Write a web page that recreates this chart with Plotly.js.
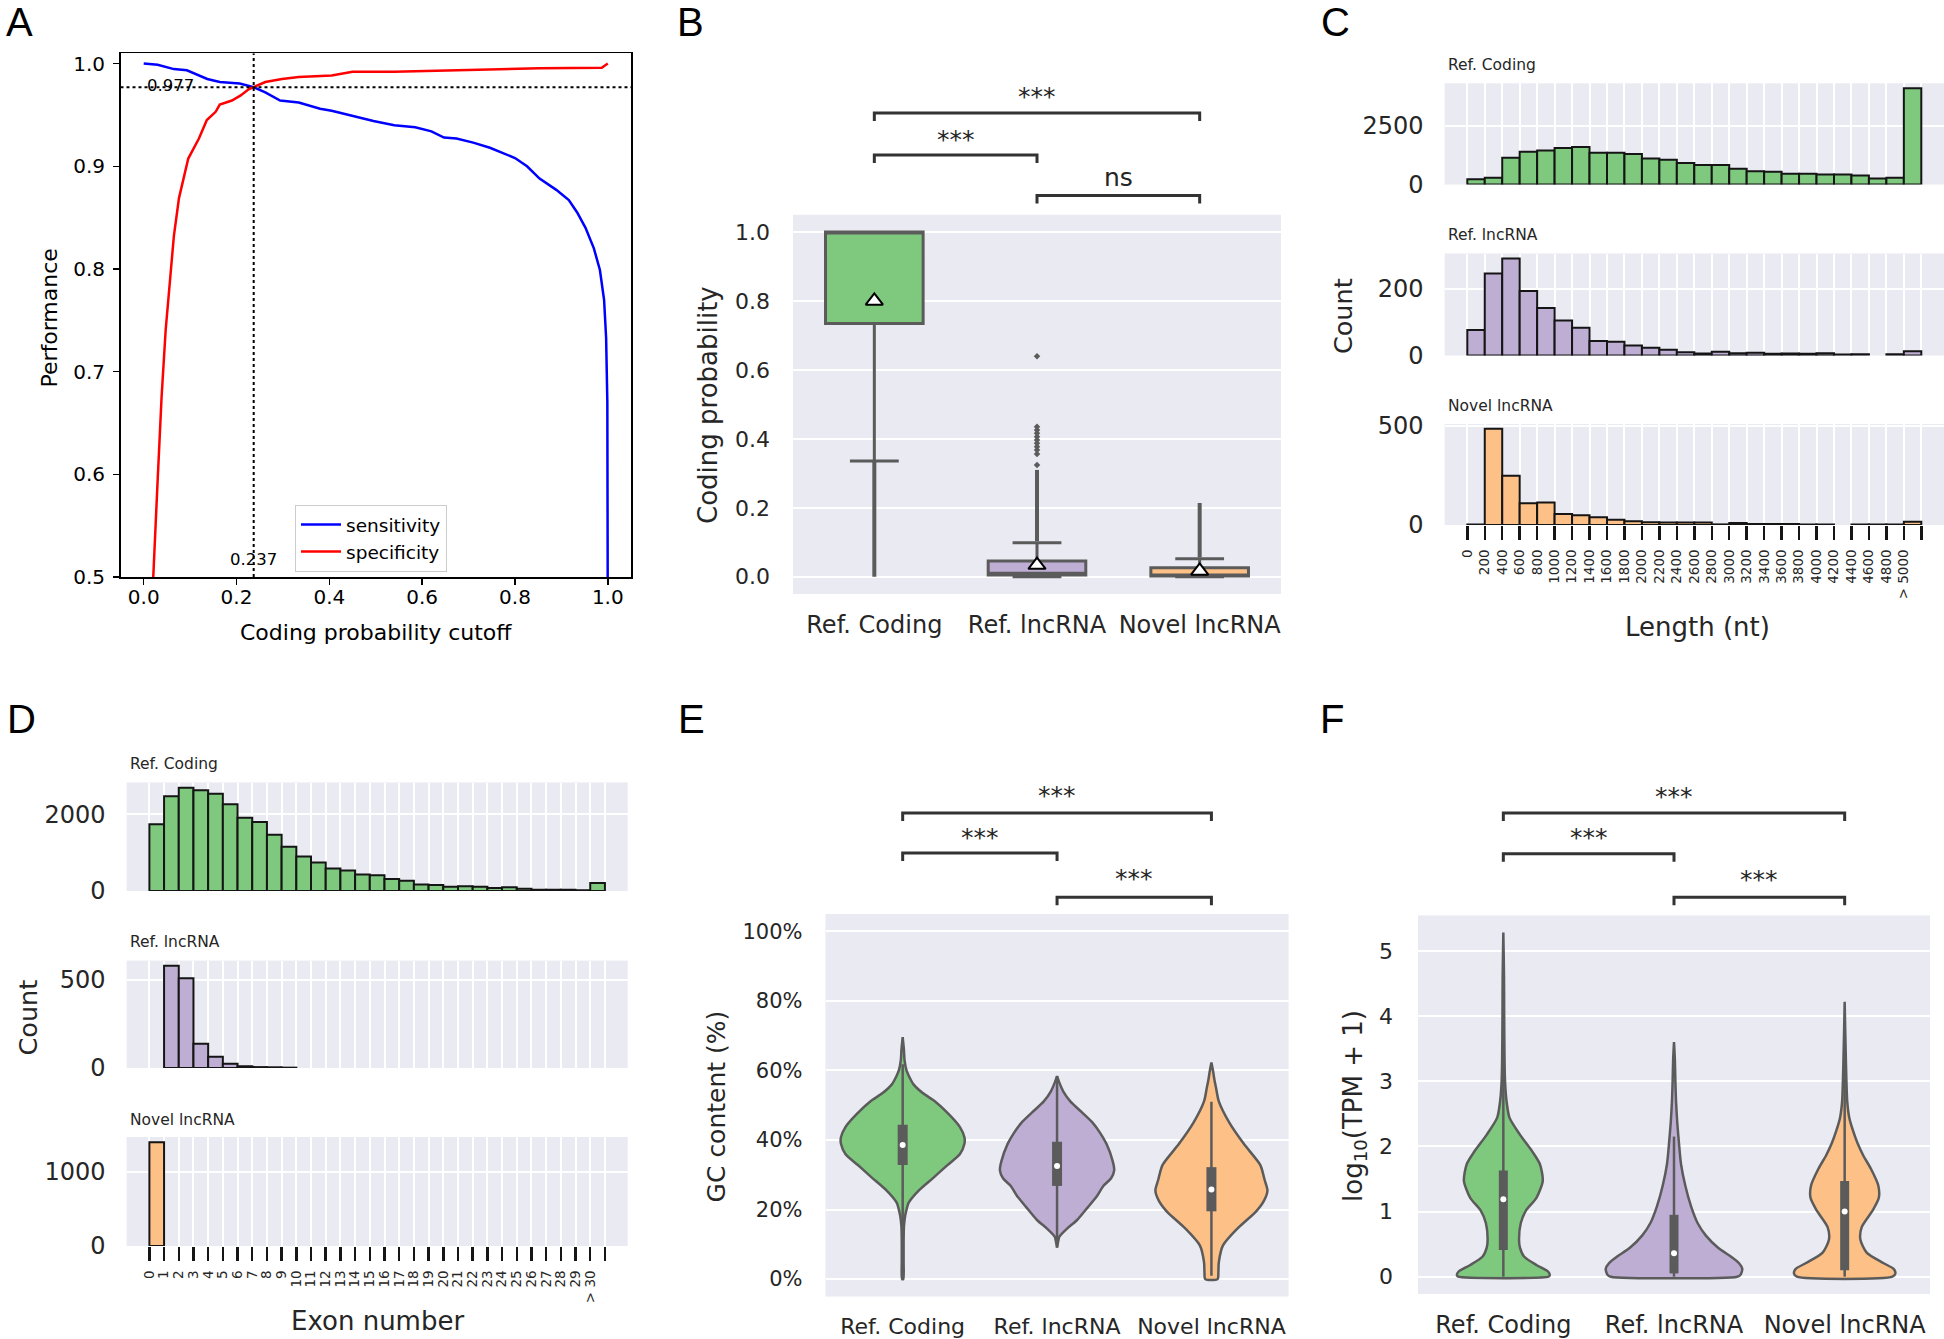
<!DOCTYPE html>
<html><head><meta charset="utf-8">
<script src="https://cdn.plot.ly/plotly-3.0.1.min.js"></script>
<style>html,body{margin:0;padding:0;background:#fff}</style>
</head><body><div id="chart" style="width:1944px;height:1339px"></div>
<script>
// ================= DATA =================
const groups = ['Ref. Coding', 'Ref. lncRNA', 'Novel lncRNA'];
const palette = ['#7fc97f', '#beaed4', '#fdc086'];

// ---- Panel A: performance vs coding probability cutoff ----
const sensX = [0, 0.03, 0.065, 0.093, 0.137, 0.164, 0.207, 0.237, 0.262, 0.294, 0.334, 0.38, 0.405, 0.45, 0.495, 0.54, 0.585, 0.62, 0.647, 0.674, 0.71, 0.746, 0.773, 0.80, 0.826, 0.853, 0.889, 0.916, 0.934, 0.952, 0.97, 0.983, 0.992, 0.9964, 0.999, 1.0];
const sensY = [1.0, 0.9988, 0.9946, 0.9935, 0.985, 0.982, 0.9805, 0.977, 0.972, 0.964, 0.962, 0.956, 0.954, 0.949, 0.944, 0.940, 0.938, 0.934, 0.928, 0.927, 0.923, 0.918, 0.913, 0.908, 0.900, 0.888, 0.877, 0.867, 0.855, 0.840, 0.820, 0.799, 0.770, 0.733, 0.671, 0.45];
const specX = [0.019, 0.0206, 0.0295, 0.0385, 0.0474, 0.058, 0.065, 0.076, 0.088, 0.096, 0.119, 0.136, 0.155, 0.164, 0.19, 0.209, 0.226, 0.237, 0.262, 0.298, 0.334, 0.405, 0.45, 0.54, 0.674, 0.764, 0.853, 0.987, 0.996, 1.0];
const specY = [0.45, 0.5, 0.589, 0.675, 0.741, 0.795, 0.832, 0.869, 0.894, 0.9075, 0.927, 0.945, 0.953, 0.960, 0.964, 0.969, 0.975, 0.977, 0.982, 0.985, 0.987, 0.9885, 0.992, 0.992, 0.9934, 0.9946, 0.9955, 0.9959, 0.9988, 1.0];
const cutoff = 0.237;
const crossPerf = 0.977;

// ---- Panel B: coding probability box plots ----
const cpQ1 = [0.735, 0.005, 0.002];
const cpMedian = [1.0, 0.01, 0.005];
const cpQ3 = [1.0, 0.046, 0.026];
const cpLowWhisker = [0.336, 0.0, 0.0];
const cpHighWhisker = [1.0, 0.099, 0.052];
const cpMean = [0.80, 0.034, 0.017];
const cpOutlierBandLow = [0.0, 0.103, 0.056];
const cpOutlierBandHigh = [0.333, 0.31, 0.214];
const cpOutliersRefLnc = [0.324, 0.356, 0.368, 0.377, 0.387, 0.397, 0.406, 0.416, 0.426, 0.435, 0.640];

// ---- Panel C: transcript length histograms (200 nt bins, last = > 5000) ----
const lenBinStart = [0, 200, 400, 600, 800, 1000, 1200, 1400, 1600, 1800, 2000, 2200, 2400, 2600, 2800, 3000, 3200, 3400, 3600, 3800, 4000, 4200, 4400, 4600, 4800, 5000];
const lenTickVals = [0, 200, 400, 600, 800, 1000, 1200, 1400, 1600, 1800, 2000, 2200, 2400, 2600, 2800, 3000, 3200, 3400, 3600, 3800, 4000, 4200, 4400, 4600, 4800, 5000];
const lenTickText = ['0', '200', '400', '600', '800', '1000', '1200', '1400', '1600', '1800', '2000', '2200', '2400', '2600', '2800', '3000', '3200', '3400', '3600', '3800', '4000', '4200', '4400', '4600', '4800', '> 5000'];
const lenEdgeTick = [5200];
const lenCoding = [227, 284, 1136, 1392, 1449, 1548, 1590, 1349, 1349, 1292, 1108, 1051, 909, 824, 824, 668, 568, 540, 454, 454, 426, 426, 383, 256, 284, 4090];
const lenRefLnc = [76, 245, 290, 193, 142, 105, 83, 43, 41, 30, 23, 17, 10, 6, 11, 7, 8, 5, 6, 5, 7, 3, 4, 0, 4, 13];
const lenNovel = [3, 485, 248, 109, 114, 56, 49, 39, 27, 19, 14, 12, 12, 12, 3, 10, 5, 5, 5, 3, 3, 0, 3, 3, 3, 17];

// ---- Panel D: exon number histograms (last = > 30) ----
const exonBin = [0, 1, 2, 3, 4, 5, 6, 7, 8, 9, 10, 11, 12, 13, 14, 15, 16, 17, 18, 19, 20, 21, 22, 23, 24, 25, 26, 27, 28, 29, 30];
const exonTickVals = [0, 1, 2, 3, 4, 5, 6, 7, 8, 9, 10, 11, 12, 13, 14, 15, 16, 17, 18, 19, 20, 21, 22, 23, 24, 25, 26, 27, 28, 29, 30];
const exonTickText = ['0', '1', '2', '3', '4', '5', '6', '7', '8', '9', '10', '11', '12', '13', '14', '15', '16', '17', '18', '19', '20', '21', '22', '23', '24', '25', '26', '27', '28', '29', '> 30'];
const exonEdgeTick = [31];
const exonCoding = [1744, 2478, 2700, 2633, 2544, 2267, 1911, 1800, 1467, 1156, 900, 744, 589, 533, 433, 411, 311, 267, 167, 156, 111, 122, 111, 78, 100, 56, 33, 33, 33, 22, 211];
const exonRefLnc = [0, 581, 510, 138, 64, 24, 10, 5, 4, 2, 0, 0, 0, 0, 0, 0, 0, 0, 0, 0, 0, 0, 0, 0, 0, 0, 0, 0, 0, 0, 0];
const exonNovel = [1394, 0, 0, 0, 0, 0, 0, 0, 0, 0, 0, 0, 0, 0, 0, 0, 0, 0, 0, 0, 0, 0, 0, 0, 0, 0, 0, 0, 0, 0, 0];

// ---- Panel E: GC content violins (density profile: level -> half width) ----
const gcCodingLevel = [0, 5, 10, 15, 18.2, 20, 21.9, 25.5, 29.2, 32.8, 35.9, 38.9, 40.8, 43.8, 47.4, 51.1, 53.5, 56, 58.4, 60, 63, 66, 69.6];
const gcCodingHalfWidth = [0.004, 0.006, 0.006, 0.008, 0.016, 0.025, 0.038, 0.105, 0.20, 0.29, 0.37, 0.40, 0.40, 0.37, 0.30, 0.21, 0.13, 0.07, 0.04, 0.025, 0.012, 0.008, 0];
const gcRefLncLevel = [9.1, 10.5, 12.2, 14.6, 17, 20.7, 24, 26.8, 29, 31.3, 34, 38.9, 42, 45, 48, 51.1, 54, 56.5, 58.4];
const gcRefLncHalfWidth = [0, 0.006, 0.015, 0.067, 0.13, 0.20, 0.26, 0.30, 0.35, 0.37, 0.36, 0.32, 0.28, 0.23, 0.16, 0.086, 0.04, 0.015, 0];
const gcNovelLevel = [0, 2, 4.9, 9.7, 14.6, 19.5, 22.5, 25.5, 28.5, 32.8, 38.9, 45, 51.1, 55, 57.2, 60, 62.3];
const gcNovelHalfWidth = [0.04, 0.045, 0.048, 0.075, 0.17, 0.29, 0.34, 0.363, 0.345, 0.317, 0.21, 0.116, 0.048, 0.03, 0.02, 0.01, 0];
const gcQ1 = [32.8, 26.8, 19.5];
const gcMedian = [38.6, 32.5, 25.8];
const gcQ3 = [44.4, 39.5, 32.2];
const gcWhiskerLow = [15.4, 9.1, 1.0];
const gcWhiskerHigh = [61.8, 58.4, 51.0];
const gcTickVals = [0, 20, 40, 60, 80, 100];
const gcTickText = ['0%', '20%', '40%', '60%', '80%', '100%'];

// ---- Panel F: expression violins ----
const tpmCodingLevel = [0, 0.02, 0.08, 0.18, 0.31, 0.45, 0.57, 0.82, 1.02, 1.21, 1.47, 1.73, 1.92, 2.18, 2.44, 2.69, 3.0, 3.34, 4.0, 4.6, 5.28];
const tpmCodingHalfWidth = [0.265, 0.272, 0.262, 0.194, 0.121, 0.097, 0.092, 0.102, 0.134, 0.194, 0.231, 0.214, 0.17, 0.097, 0.036, 0.019, 0.01, 0.007, 0.005, 0.004, 0];
const tpmRefLncLevel = [0, 0.03, 0.12, 0.21, 0.31, 0.44, 0.63, 0.82, 1.08, 1.40, 1.73, 2.05, 2.37, 2.69, 3.0, 3.34, 3.6];
const tpmRefLncHalfWidth = [0.37, 0.39, 0.40, 0.38, 0.333, 0.26, 0.187, 0.139, 0.10, 0.066, 0.041, 0.029, 0.019, 0.012, 0.008, 0.005, 0];
const tpmNovelLevel = [0, 0.05, 0.12, 0.21, 0.37, 0.57, 0.76, 1.02, 1.21, 1.40, 1.66, 1.86, 2.05, 2.24, 2.44, 2.69, 3.34, 4.22];
const tpmNovelHalfWidth = [0.28, 0.297, 0.287, 0.226, 0.129, 0.092, 0.10, 0.165, 0.20, 0.197, 0.153, 0.109, 0.075, 0.049, 0.027, 0.015, 0.007, 0];
const tpmQ1 = [0.41, 0.05, 0.10];
const tpmMedian = [1.19, 0.36, 1.0];
const tpmQ3 = [1.63, 0.95, 1.47];
const tpmWhiskerLow = [0, 0, 0];
const tpmWhiskerHigh = [3.46, 2.15, 3.5];

// ---- significance brackets ----
const sigPairs = [[0, 2], [0, 1], [1, 2]];
const sigB = ['***', '***', 'ns'];
const sigE = ['***', '***', '***'];
const sigF = ['***', '***', '***'];

// ================= BUILD =================
const W = 1944, H = 1339;
const px = v => v / W;
const py = v => 1 - v / H;
const domX = (a, b) => [px(a), px(b)];
const domY = (top, bottom) => [py(bottom), py(top)];
const GRAY = '#5b5b5b';
const TXT = '#262626';
const FONT = 'DejaVu Sans';

const traces = [];

// A
traces.push({type: 'scatter', mode: 'lines', x: sensX, y: sensY, name: 'sensitivity',
  line: {color: '#0000ff', width: 2.5}, xaxis: 'x', yaxis: 'y'});
traces.push({type: 'scatter', mode: 'lines', x: specX, y: specY, name: 'specificity',
  line: {color: '#ff0000', width: 2.5}, xaxis: 'x', yaxis: 'y'});

// B
groups.forEach((g, i) => {
  traces.push({type: 'box', name: g, x: [i], q1: [cpQ1[i]], median: [cpMedian[i]], q3: [cpQ3[i]],
    lowerfence: [cpLowWhisker[i]], upperfence: [cpHighWhisker[i]], width: 0.6, whiskerwidth: 0.5,
    fillcolor: palette[i], line: {color: GRAY, width: 3}, boxpoints: false,
    xaxis: 'x2', yaxis: 'y2', showlegend: false, hoverinfo: 'skip'});
  traces.push({type: 'scatter', mode: 'lines', x: [i, i], y: [cpOutlierBandLow[i], cpOutlierBandHigh[i]],
    line: {color: GRAY, width: 4}, xaxis: 'x2', yaxis: 'y2', showlegend: false, hoverinfo: 'skip'});
});
traces.push({type: 'scatter', mode: 'markers', x: cpOutliersRefLnc.map(() => 1), y: cpOutliersRefLnc,
  marker: {symbol: 'diamond', size: 5, color: GRAY}, xaxis: 'x2', yaxis: 'y2', showlegend: false, hoverinfo: 'skip'});
traces.push({type: 'scatter', mode: 'markers', x: [0, 1, 2], y: cpMean,
  marker: {symbol: 'triangle-up', size: 15, color: '#ffffff', line: {color: '#000000', width: 2}},
  xaxis: 'x2', yaxis: 'y2', showlegend: false, hoverinfo: 'skip'});

// C
[[lenCoding, 'y3'], [lenRefLnc, 'y4'], [lenNovel, 'y5']].forEach(([vals, ya], i) => {
  traces.push({type: 'bar', x: lenBinStart.map(s => s + 100), y: vals.map(v => v === 0 ? null : v), width: 200,
    marker: {color: palette[i], line: {color: '#151515', width: 2}}, xaxis: 'x3', yaxis: ya,
    showlegend: false, hoverinfo: 'skip'});
});

// D
[[exonCoding, 'y6'], [exonRefLnc, 'y7'], [exonNovel, 'y8']].forEach(([vals, ya], i) => {
  traces.push({type: 'bar', x: exonBin.map(b => b + 0.5), y: vals.map(v => v === 0 ? null : v), width: 1,
    marker: {color: palette[i], line: {color: '#151515', width: 2}}, xaxis: 'x4', yaxis: ya,
    showlegend: false, hoverinfo: 'skip'});
});

// violins (E, F)
function addViolin(center, levels, halfW, color, xa, ya) {
  const xs = [], ys = [];
  levels.forEach((l, k) => { xs.push(center + halfW[k]); ys.push(l); });
  for (let k = levels.length - 1; k >= 0; k--) { xs.push(center - halfW[k]); ys.push(levels[k]); }
  xs.push(xs[0]); ys.push(ys[0]);
  traces.push({type: 'scatter', mode: 'lines', x: xs, y: ys, fill: 'toself', fillcolor: color,
    line: {color: GRAY, width: 2.5, shape: 'spline', smoothing: 0.7}, xaxis: xa, yaxis: ya,
    showlegend: false, hoverinfo: 'skip'});
}
function addInnerBox(center, q1, med, q3, lo, hi, xa, ya, thick) {
  traces.push({type: 'scatter', mode: 'lines', x: [center, center], y: [lo, hi],
    line: {color: GRAY, width: 2.5}, xaxis: xa, yaxis: ya, showlegend: false, hoverinfo: 'skip'});
  traces.push({type: 'scatter', mode: 'lines', x: [center, center], y: [q1, q3],
    line: {color: GRAY, width: thick}, xaxis: xa, yaxis: ya, showlegend: false, hoverinfo: 'skip'});
  traces.push({type: 'scatter', mode: 'markers', x: [center], y: [med],
    marker: {color: '#ffffff', size: 6}, xaxis: xa, yaxis: ya, showlegend: false, hoverinfo: 'skip'});
}
const gcProfiles = [[gcCodingLevel, gcCodingHalfWidth], [gcRefLncLevel, gcRefLncHalfWidth], [gcNovelLevel, gcNovelHalfWidth]];
gcProfiles.forEach(([lv, hw], i) => {
  addViolin(i, lv, hw, palette[i], 'x5', 'y9');
  addInnerBox(i, gcQ1[i], gcMedian[i], gcQ3[i], gcWhiskerLow[i], gcWhiskerHigh[i], 'x5', 'y9', 10);
});
const tpmProfiles = [[tpmCodingLevel, tpmCodingHalfWidth], [tpmRefLncLevel, tpmRefLncHalfWidth], [tpmNovelLevel, tpmNovelHalfWidth]];
tpmProfiles.forEach(([lv, hw], i) => {
  addViolin(i, lv, hw, palette[i], 'x6', 'y10');
  addInnerBox(i, tpmQ1[i], tpmMedian[i], tpmQ3[i], tpmWhiskerLow[i], tpmWhiskerHigh[i], 'x6', 'y10', 9);
});

// ================= LAYOUT =================
const shapes = [];
const annotations = [];

// white background for panel A (matplotlib classic style)
shapes.push({type: 'rect', xref: 'x domain', yref: 'y domain', x0: 0, x1: 1, y0: 0, y1: 1,
  fillcolor: '#ffffff', line: {width: 0}, layer: 'below'});
shapes.push({type: 'line', xref: 'x', yref: 'y', x0: -0.05, x1: 1.05, y0: crossPerf, y1: crossPerf,
  line: {color: '#000', width: 2, dash: 'dot'}});
shapes.push({type: 'line', xref: 'x', yref: 'y', x0: cutoff, x1: cutoff, y0: 0.5, y1: 1.01,
  line: {color: '#000', width: 2, dash: 'dot'}});
annotations.push({xref: 'x', yref: 'y', x: 0.003, y: crossPerf, text: crossPerf.toFixed(3), showarrow: false,
  xanchor: 'left', yanchor: 'middle', yshift: 2, font: {family: FONT, size: 16.5, color: '#000'}});
annotations.push({xref: 'x', yref: 'y', x: cutoff, y: 0.5, text: cutoff.toFixed(3), showarrow: false,
  xanchor: 'center', yanchor: 'bottom', yshift: 6, font: {family: FONT, size: 16.5, color: '#000'}});

// significance brackets
function addBrackets(xa, labels, barPx, textPx) {
  sigPairs.forEach(([a, b], k) => {
    const y1 = py(barPx[k]), y0 = py(barPx[k] + 8);
    shapes.push({type: 'path', xref: xa, yref: 'paper',
      path: `M ${a},${y0} L ${a},${y1} L ${b},${y1} L ${b},${y0}`,
      line: {color: '#333333', width: 3}});
    annotations.push({xref: xa, yref: 'paper', x: (a + b) / 2, y: py(textPx[k] + (labels[k] === 'ns' ? -2 : 5)),
      text: labels[k], showarrow: false, xanchor: 'center', yanchor: 'middle',
      font: {family: FONT, size: 25, color: TXT}});
  });
}
addBrackets('x2', sigB, [113, 155, 195.4], [92, 134.2, 179.3]);
addBrackets('x5', sigE, [812.9, 853, 897.3], [790.5, 832.7, 874]);
addBrackets('x6', sigF, [812.9, 853.8, 897.3], [791.8, 832.7, 874.1]);

// panel letters
[['A', 19, 22], ['B', 690, 22], ['C', 1335, 22], ['D', 21, 719], ['E', 691, 719], ['F', 1332, 719]].forEach(([t, x, y]) => {
  annotations.push({xref: 'paper', yref: 'paper', x: px(x), y: py(y), text: t, showarrow: false,
    xanchor: 'center', yanchor: 'middle', font: {family: 'Liberation Sans', size: 40, color: '#000'}});
});

// axis titles
function title(text, x, y, size, angle, color) {
  annotations.push({xref: 'paper', yref: 'paper', x: px(x), y: py(y), text: text, showarrow: false,
    xanchor: 'center', yanchor: 'middle', textangle: angle || 0, font: {family: FONT, size: size, color: color || TXT}});
}
title('Coding probability cutoff', 376, 633, 22, 0, '#000');
title('Performance', 50, 318.6, 22, -90, '#000');
title('Coding probability', 708, 405, 26, -90);
title('Count', 1343.6, 316.5, 25.5, -90);
title('Length (nt)', 1697.5, 626.6, 26);
title('Count', 27, 1017.5, 25.5, -90);
title('Exon number', 377.6, 1321, 26);
title('GC content (%)', 716.4, 1106, 25, -90);
title('log<sub>10</sub>(TPM + 1)', 1354, 1106, 26, -90);

// subplot titles
function subTitle(text, x, y) {
  annotations.push({xref: 'paper', yref: 'paper', x: px(x), y: py(y), text: text, showarrow: false,
    xanchor: 'left', yanchor: 'middle', font: {family: FONT, size: 15.5, color: TXT}});
}
[[64.6], [235], [406]].forEach(([y], i) => subTitle(groups[i], 1446, y));
[[763.5], [941.6], [1119.7]].forEach(([y], i) => subTitle(groups[i], 127.8, y));

const darkY = (extra) => Object.assign({showgrid: true, gridcolor: '#ffffff', gridwidth: 2, zeroline: false,
  ticks: '', showline: false, tickfont: {family: FONT, size: 24, color: TXT}, ticklabelstandoff: 20}, extra);
const catX = (extra) => Object.assign({range: [-0.5, 2.5], tickvals: [0, 1, 2], ticktext: groups, showgrid: false,
  zeroline: false, ticks: '', showline: false}, extra);
const histX = (extra) => Object.assign({showgrid: true, gridcolor: '#ffffff', gridwidth: 2, zeroline: false,
  tickangle: -90, ticks: 'outside', ticklen: 14, tickwidth: 2.5, tickcolor: '#151515', showline: false,
  tickfont: {family: FONT, size: 13.5, color: TXT}, ticklabelstandoff: 4}, extra);
const edgeMinor = (vals) => ({tickmode: 'array', tickvals: vals, ticks: 'outside', ticklen: 14, tickwidth: 2.5,
  tickcolor: '#151515', showgrid: true, gridcolor: '#ffffff', gridwidth: 2});

const layout = {
  width: W, height: H, margin: {l: 0, r: 0, t: 0, b: 0},
  paper_bgcolor: '#ffffff', plot_bgcolor: '#eaeaf2',
  font: {family: FONT, color: TXT},
  barmode: 'overlay', showlegend: true,
  legend: {x: px(295), y: py(505), xanchor: 'left', yanchor: 'top', bgcolor: '#ffffff',
    bordercolor: '#cccccc', borderwidth: 1, font: {family: FONT, size: 18.5, color: '#000'},
    itemwidth: 40, tracegroupgap: 0},
  xaxis: {domain: domX(120.5, 631), anchor: 'y', range: [-0.05, 1.05], tickvals: [0, 0.2, 0.4, 0.6, 0.8, 1.0],
    tickformat: '.1f', ticks: 'outside', ticklen: 6, tickwidth: 1.5, tickcolor: '#000', showline: true, mirror: true,
    linecolor: '#000', linewidth: 1.5, showgrid: false, zeroline: false,
    tickfont: {family: FONT, size: 20, color: '#000'}, ticklabelstandoff: -5},
  yaxis: {domain: domY(53.3, 577), anchor: 'x', range: [0.5, 1.01], tickvals: [0.5, 0.6, 0.7, 0.8, 0.9, 1.0],
    tickformat: '.1f', ticks: 'outside', ticklen: 6, tickwidth: 1.5, tickcolor: '#000', showline: true, mirror: true,
    linecolor: '#000', linewidth: 1.5, showgrid: false, zeroline: false,
    tickfont: {family: FONT, size: 20, color: '#000'}, ticklabelstandoff: 4},
  xaxis2: catX({domain: domX(793, 1281), anchor: 'y2', tickfont: {family: FONT, size: 24, color: TXT}, ticklabelstandoff: 14}),
  yaxis2: darkY({domain: domY(214.8, 594), anchor: 'x2', range: [-0.05, 1.05], tickvals: [0, 0.2, 0.4, 0.6, 0.8, 1.0],
    tickformat: '.1f', tickfont: {family: FONT, size: 22, color: TXT}, ticklabelstandoff: 22}),
  xaxis3: histX({domain: domX(1444.6, 1944), anchor: 'y5', range: [-260, 5460], tickvals: lenTickVals, ticktext: lenTickText,
    minor: edgeMinor(lenEdgeTick)}),
  yaxis3: darkY({domain: domY(83.3, 184.5), anchor: 'x3', range: [0, 4300], tickvals: [0, 2500]}),
  yaxis4: darkY({domain: domY(253.5, 355.5), anchor: 'x3', range: [0, 305], tickvals: [0, 200]}),
  yaxis5: darkY({domain: domY(424, 525), anchor: 'x3', range: [0, 509], tickvals: [0, 500]}),
  xaxis4: histX({domain: domX(126.6, 627.7), anchor: 'y8', range: [-1.55, 32.55], tickvals: exonTickVals, ticktext: exonTickText,
    minor: edgeMinor(exonEdgeTick)}),
  yaxis6: darkY({domain: domY(782.5, 891), anchor: 'x4', range: [0, 2835], tickvals: [0, 2000]}),
  yaxis7: darkY({domain: domY(960.6, 1068), anchor: 'x4', range: [0, 610], tickvals: [0, 500]}),
  yaxis8: darkY({domain: domY(1137, 1246), anchor: 'x4', range: [0, 1464], tickvals: [0, 1000]}),
  xaxis5: catX({domain: domX(825.5, 1288.6), anchor: 'y9', tickfont: {family: FONT, size: 22, color: TXT}, ticklabelstandoff: 14}),
  yaxis9: darkY({domain: domY(914, 1296.5), anchor: 'x5', range: [-5, 105], tickvals: gcTickVals, ticktext: gcTickText,
    tickfont: {family: FONT, size: 21, color: TXT}, ticklabelstandoff: 22}),
  xaxis6: catX({domain: domX(1418, 1930), anchor: 'y10', tickfont: {family: FONT, size: 24, color: TXT}, ticklabelstandoff: 14}),
  yaxis10: darkY({domain: domY(915.4, 1293.9), anchor: 'x6', range: [-0.264, 5.544], tickvals: [0, 1, 2, 3, 4, 5],
    tickfont: {family: FONT, size: 22, color: TXT}, ticklabelstandoff: 24}),
  shapes: shapes,
  annotations: annotations
};

Plotly.newPlot('chart', traces, layout, {displayModeBar: false, staticPlot: true});
</script>
</body></html>
